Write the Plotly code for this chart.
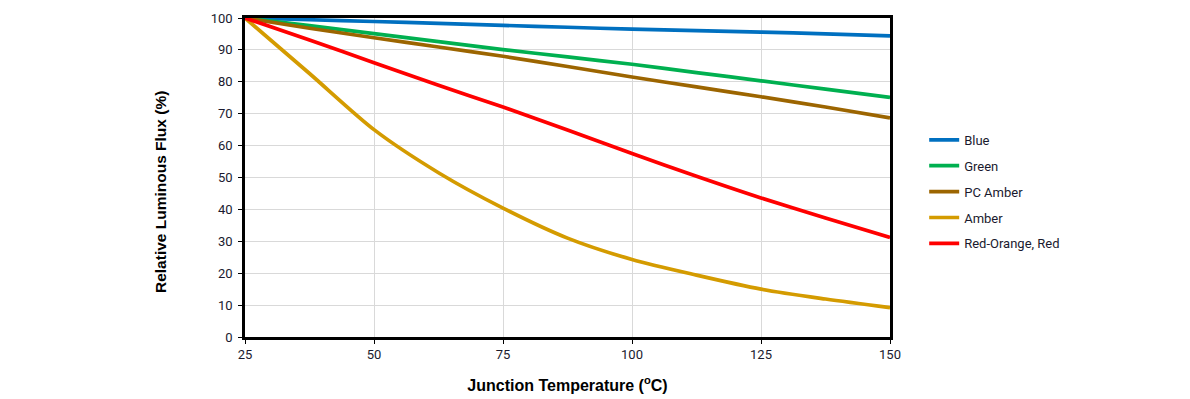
import plotly.graph_objects as go

temps = [25, 37.5, 50, 62.5, 75, 87.5, 100, 112.5, 125, 137.5, 150]

blue = [100, 99.45, 98.9, 98.3, 97.7, 97.1, 96.5, 96.05, 95.6, 95.0, 94.4]
green = [100, 97.6, 95.1, 92.6, 90.1, 87.8, 85.5, 82.9, 80.3, 77.7, 75.1]
pc_amber = [100, 96.8, 93.8, 90.9, 88.0, 84.8, 81.5, 78.4, 75.3, 72.1, 68.7]
amber = [100, 82.6, 65.0, 51.5, 40.4, 31.0, 24.3, 19.4, 15.0, 11.9, 9.2]
red = [100, 93.1, 86.0, 78.9, 72.1, 64.9, 57.5, 50.4, 43.6, 37.3, 31.2]

series = [
    ("Blue", blue, "#0070c0"),
    ("Green", green, "#00b050"),
    ("PC Amber", pc_amber, "#9c6500"),
    ("Amber", amber, "#d49b00"),
    ("Red-Orange, Red", red, "#ff0000"),
]

x_ticks = [25, 50, 75, 100, 125, 150]
y_ticks = list(range(0, 101, 10))

fig = go.Figure()
for i, (name, vals, col) in enumerate(series):
    fig.add_trace(go.Scatter(
        x=temps, y=vals, name=name, mode="lines", legendgroup=f"g{i}",
        line=dict(color=col, width=3.7, shape="spline", smoothing=0.8),
    ))

tick_font = dict(family="Roboto, sans-serif", size=13, color="#1a1a2e")
title_font = dict(family="Liberation Sans, Arial, sans-serif", size=16, color="#000000")

fig.update_layout(
    width=1182, height=391,
    margin=dict(l=237, r=300, t=10, b=62),
    paper_bgcolor="white", plot_bgcolor="white",
    showlegend=True,
    legend=dict(
        x=1.053, y=0.455, xanchor="left", yanchor="middle",
        font=dict(family="Roboto, sans-serif", size=13, color="#1a1a2e"),
        tracegroupgap=6, itemwidth=30,
        bgcolor="rgba(0,0,0,0)",
    ),
    xaxis=dict(
        range=[25, 150], tickvals=x_ticks, ticktext=[str(v) for v in x_ticks],
        showgrid=True, gridcolor="#d9d9d9", gridwidth=1,
        showline=True, linecolor="black", linewidth=2.5, mirror=True,
        ticks="outside", ticklen=4, tickcolor="black", tickwidth=1,
        tickfont=tick_font, zeroline=False, automargin=False,
        title=dict(text="<b>Junction Temperature (<sup>o</sup>C)</b>", font=title_font, standoff=19),
    ),
    yaxis=dict(
        range=[0, 100], tickvals=y_ticks,
        showgrid=True, gridcolor="#d9d9d9", gridwidth=1,
        showline=True, linecolor="black", linewidth=2.5, mirror=True,
        ticks="outside", ticklen=4, tickcolor="black", tickwidth=1,
        tickfont=tick_font, zeroline=False, automargin=False,
        ticklabelstandoff=3,
    ),
    annotations=[dict(
        text="<b>Relative Luminous Flux (%)</b>", textangle=-90,
        xref="paper", yref="paper", x=0, y=0.4545,
        xanchor="center", yanchor="middle", xshift=-85, showarrow=False,
        font=dict(family="Liberation Sans, Arial, sans-serif", size=15.5, color="#000000"),
    )],
)

fig.write_html("out.html")
